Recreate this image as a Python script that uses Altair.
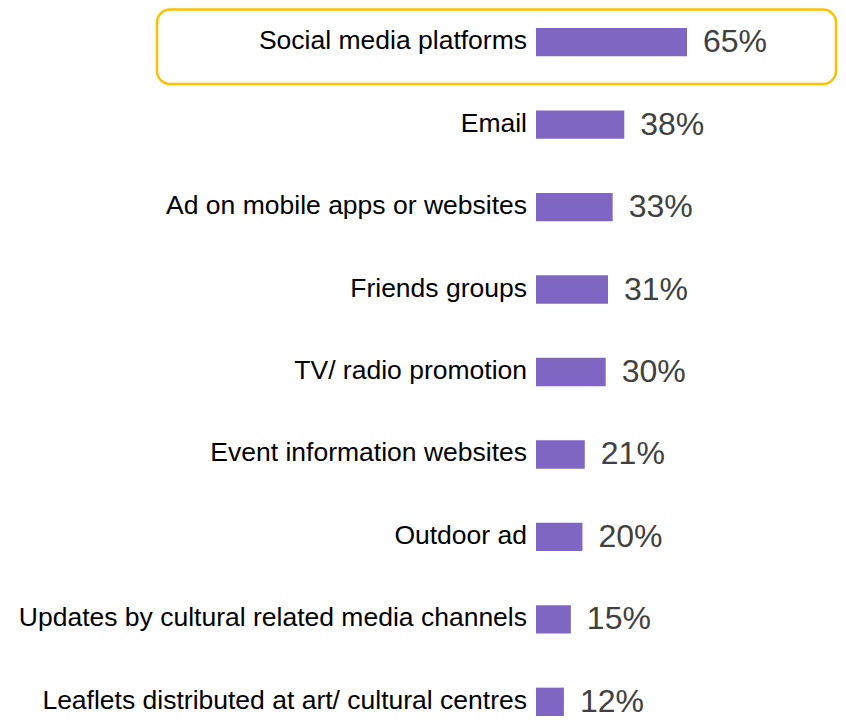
import altair as alt
import pandas as pd

categories = [
    "Social media platforms",
    "Email",
    "Ad on mobile apps or websites",
    "Friends groups",
    "TV/ radio promotion",
    "Event information websites",
    "Outdoor ad",
    "Updates by cultural related media channels",
    "Leaflets distributed at art/ cultural centres",
]
values = [65, 38, 33, 31, 30, 21, 20, 15, 12]
labels = ["65%", "38%", "33%", "31%", "30%", "21%", "20%", "15%", "12%"]
highlighted = ["Social media platforms"]

df = pd.DataFrame({"category": categories, "value": values, "label": labels})
hl = pd.DataFrame({"category": highlighted})

FONT = "Liberation Sans"

y_enc = alt.Y(
    "category:N",
    sort=categories,
    axis=None,
    scale=alt.Scale(domain=categories, range=[20, 708], paddingInner=0.656, paddingOuter=0),
)
x_scale = alt.Scale(domain=[0, 130], nice=False, zero=True)

frame = alt.Chart(hl).mark_rect(
    cornerRadius=13, fill="white", fillOpacity=0, stroke="#FFC000", strokeWidth=2.5
).encode(
    x=alt.value(-379),
    x2=alt.value(300),
    y=alt.value(1.5),
    y2=alt.value(76),
)

bars = alt.Chart(df).mark_bar(color="#7E66C2").encode(
    y=y_enc,
    x=alt.X("value:Q", scale=x_scale, axis=None),
)

cat_text = alt.Chart(df).mark_text(
    align="right", baseline="alphabetic", dx=-9, dy=7, font=FONT, fontSize=26.5, color="#000000"
).encode(
    y=y_enc,
    x=alt.value(0),
    text="category:N",
)

val_text = alt.Chart(df).mark_text(
    align="left", baseline="alphabetic", dx=16, dy=10, font=FONT, fontSize=32, color="#404040"
).encode(
    y=y_enc,
    x=alt.X("value:Q", scale=x_scale, axis=None),
    text="label:N",
)

chart = alt.layer(frame, bars, cat_text, val_text).properties(
    width=302,
    height=708,
    autosize=alt.AutoSizeParams(type="none"),
    padding={"left": 528, "top": 0, "right": 0, "bottom": 4},
).configure_view(stroke=None)

chart.save("out.html", embed_options={"renderer": "svg", "actions": False})
